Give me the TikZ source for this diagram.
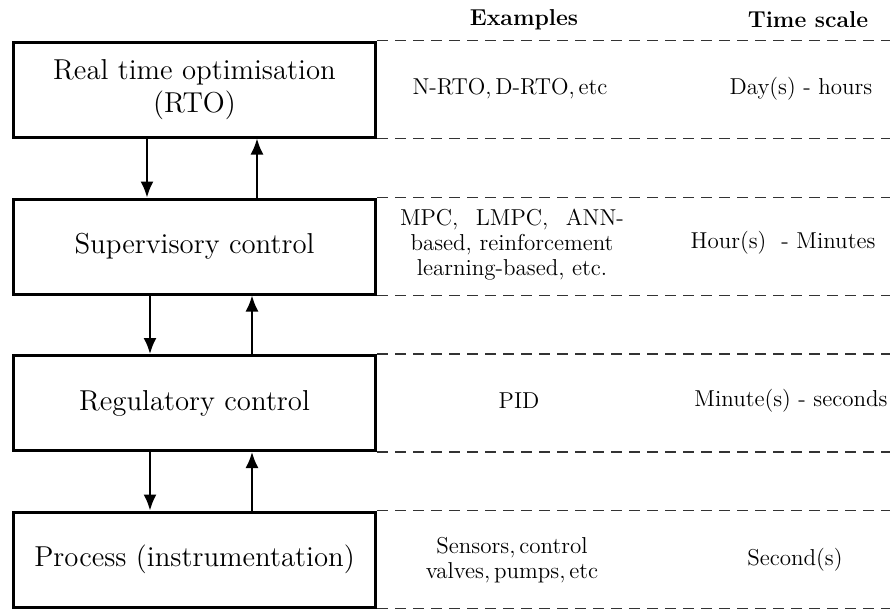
\documentclass[tikz,border=0pt]{standalone}
\usepackage{tikz}
\usetikzlibrary{arrows.meta}

\begin{document}
\begin{tikzpicture}[x=0.5pt, y=-0.5pt,
  layer/.style={draw, line width=1.5pt, minimum width=181pt, minimum height=47.5pt,
    align=center, inner sep=2pt, font=\fontsize{14.4}{16.5}\selectfont},
  coltext/.style={align=center, inner sep=1pt, font=\fontsize{11.5}{12.5}\selectfont},
  colhead/.style={coltext, font=\fontsize{11.5}{12.5}\selectfont\bfseries},
  sep/.style={dash pattern=on 5.5pt off 3.5pt, line width=0.6pt, black!80},
  flow/.style={-{Latex[length=8pt,width=6.5pt]}, line width=1pt}]
  % page frame (px of the reference)
  \useasboundingbox (0,0) rectangle (890,611);
  \coordinate (rgt) at (890,0);

  % hierarchy boxes
  \node[layer] (rto)  at (194.5,89.5)  {Real time optimisation\\(RTO)};
  \node[layer] (sup)  at (194.5,246.5) {Supervisory control};
  \node[layer] (reg)  at (194.5,403)   {Regulatory control};
  \node[layer] (proc) at (194.5,559.5) {Process (instrumentation)};

  % dashed row separators
  \foreach \n in {rto,sup,reg,proc} {
    \draw[sep] (\n.north east) -- (\n.north east -| rgt);
    \draw[sep] (\n.south east) -- (\n.south east -| rgt);
  }

  % down / up arrows between layers
  \foreach \a/\b/\dn/\up in {rto/sup/-47.5/62.5, sup/reg/-44.5/57.5, reg/proc/-44.5/57.5} {
    \draw[flow] ([xshift=\dn*0.5pt]\a.south) -- ([xshift=\dn*0.5pt]\b.north);
    \draw[flow] ([xshift=\up*0.5pt]\b.north) -- ([xshift=\up*0.5pt]\a.south);
  }

  % column headers
  \node[colhead] (hex) at (524,20) {Examples};
  \node[colhead] (hts) at (808,20) {Time scale};

  % examples and time scales per layer
  \node[coltext] (exrto) at (510,89) {N-RTO,\,D-RTO,\,etc};
  \node[coltext] (tsrto) at (801,89) {Day(s) - hours};
  \node[coltext, text width=112pt] (exsup) at (512,245)
    {\makebox[112pt]{MPC,\hfill LMPC,\hfill ANN-}\\based, reinforcement\\learning-based, etc.};
  \node[coltext] (tssup) at (783,243) {Hour(s) \ - Minutes};
  \node[coltext] (exreg) at (519,401) {PID};
  \node[coltext] (tsreg) at (791,401) {Minute(s) - seconds};
  \node[coltext] (exproc) at (512,560) {Sensors,\,control\\valves,\,pumps,\,etc};
  \node[coltext] (tsproc) at (795,560) {Second(s)};
\end{tikzpicture}
\end{document}
